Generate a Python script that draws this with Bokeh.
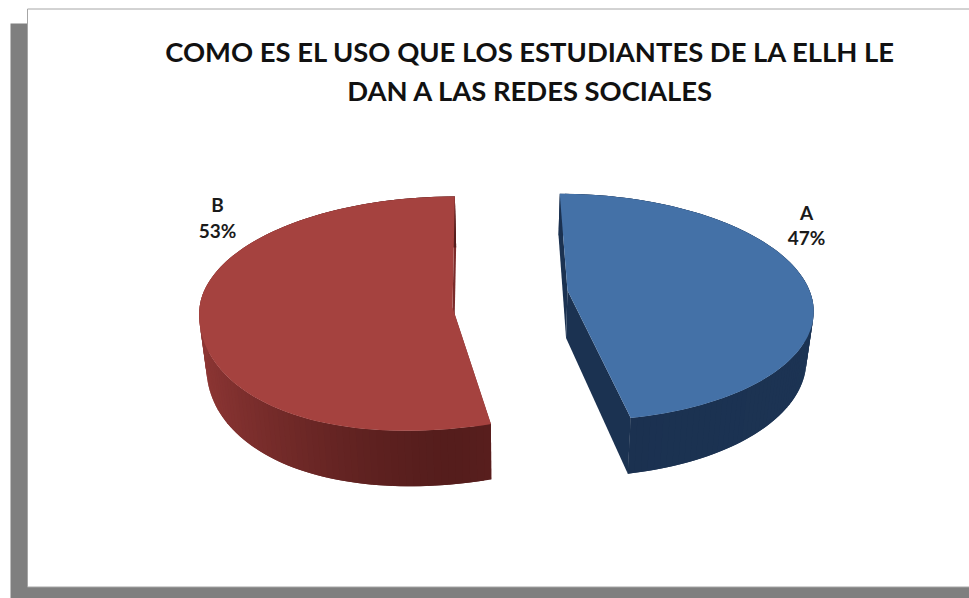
import numpy as np
from bokeh.core.properties import value
from bokeh.embed import file_html
from bokeh.models import Range1d
from bokeh.plotting import figure
from bokeh.resources import INLINE

# Chart content
title_lines = ["COMO ES EL USO QUE LOS ESTUDIANTES DE LA ELLH LE", "DAN A LAS REDES SOCIALES"]
categories = ["A", "B"]
shares = [47, 53]

WIDTH, HEIGHT = 969, 598
FONT = value("Lato")
PIE_X, RIM_SCALE = 507.0, 0.976
STEPS = 120

# Projection and shading of each exploded wedge
slice_styles = {
    "A": dict(offset=60, apex_y=290, rx=242, ry=111, persp=0.148, nudge=0.0, bulge=0, depth=47.5,
              top="#4471A7", radial="#1B3251", side=("#1B3150", "#1C3454"),
              label_x=806, label_y=(211.5, 237)),
    "B": dict(offset=-55, apex_y=307, rx=253, ry=116, persp=0.045, nudge=1.9, bulge=22, depth=53,
              top="#A5423F", radial="#7A2B2A", side=("#551D1C", "#8D3634"),
              label_x=217, label_y=(204, 229.5)),
}


def mix(c0, c1, t):
    a = [int(c0[i:i + 2], 16) for i in (1, 3, 5)]
    b = [int(c1[i:i + 2], 16) for i in (1, 3, 5)]
    return "#%02x%02x%02x" % tuple(round(x + (y - x) * t) for x, y in zip(a, b))


def project(theta, radius, st):
    """Tilted-disc projection; returns the upper rim and the extruded lower rim."""
    u, v = radius * np.sin(theta), radius * np.cos(theta)
    s = 1.0 / (1.0 + st["persp"] * v)
    x = PIE_X + (st["offset"] + st["rx"] * u) * s
    y = st["apex_y"] - st["ry"] * v * s + st["bulge"] * u * np.minimum(v, 0.0)
    return x, y, PIE_X + (x - PIE_X) * RIM_SCALE, y + st["depth"] * s


p = figure(width=WIDTH, height=HEIGHT, output_backend="svg", toolbar_location=None,
           x_range=Range1d(0, WIDTH), y_range=Range1d(HEIGHT, 0),
           min_border=0, outline_line_color=None, background_fill_color="white")
p.axis.visible = False
p.grid.visible = False

# Slide frame with its heavy drop shadow
p.quad(left=[10], right=[WIDTH], top=[23], bottom=[HEIGHT], fill_color="#7F7F7F", line_color=None)
p.quad(left=[27], right=[WIDTH + 2], top=[8.5], bottom=[586.5], fill_color="white",
       line_color="#A6A6A6", line_width=1)

total = sum(shares)
start = 0.0
for cat, share in zip(categories, shares):
    st = slice_styles[cat]
    end = start + 2 * np.pi * share / total
    thetas = np.linspace(start + np.radians(st["nudge"]), end, STEPS + 1)
    x, y, xl, yl = project(thetas, 1.0, st)
    ax, ay, axl, ayl = project(np.array([0.0]), 0.0, st)

    # Cut faces running in to the centre of the wedge
    for i in (0, -1):
        p.patch([x[i], ax[0], axl[0], xl[i]], [y[i], ay[0], ayl[0], yl[i]],
                fill_color=st["radial"], line_color=None)

    # Outer wall, shaded strip by strip; each strip overlaps the next to hide seams
    c_front, c_side = st["side"]
    for i in range(STEPS):
        j = min(i + 2, STEPS)
        mid = 0.5 * (thetas[i] + thetas[i + 1])
        t = min(1.0, abs(np.sin(mid)) ** 1.5)
        col = mix(c_front, c_side, t)
        p.patch([x[i], x[j], xl[j], xl[i]], [y[i], y[j], yl[j], yl[i]],
                fill_color=col, line_color=None)

    # Top face
    p.patch(np.r_[ax, x], np.r_[ay, y], fill_color=st["top"], line_color=None)

    # Data label
    lx = st["label_x"]
    for text, ly in zip((cat, f"{share}%"), st["label_y"]):
        p.text([lx], [ly], text=[text], text_font=FONT, text_font_style="bold",
               text_font_size="19px", text_color="#1A1A1A", text_align="center", text_baseline="middle")
    start = end

# Title
for line, centre in zip(title_lines, (51, 89.5)):
    p.text([530], [centre], text=[line], text_font=FONT, text_font_style="bold",
           text_font_size="27.4px", text_color="#111111", text_align="center", text_baseline="middle")

open("out.html", "w").write(file_html(p, INLINE))
